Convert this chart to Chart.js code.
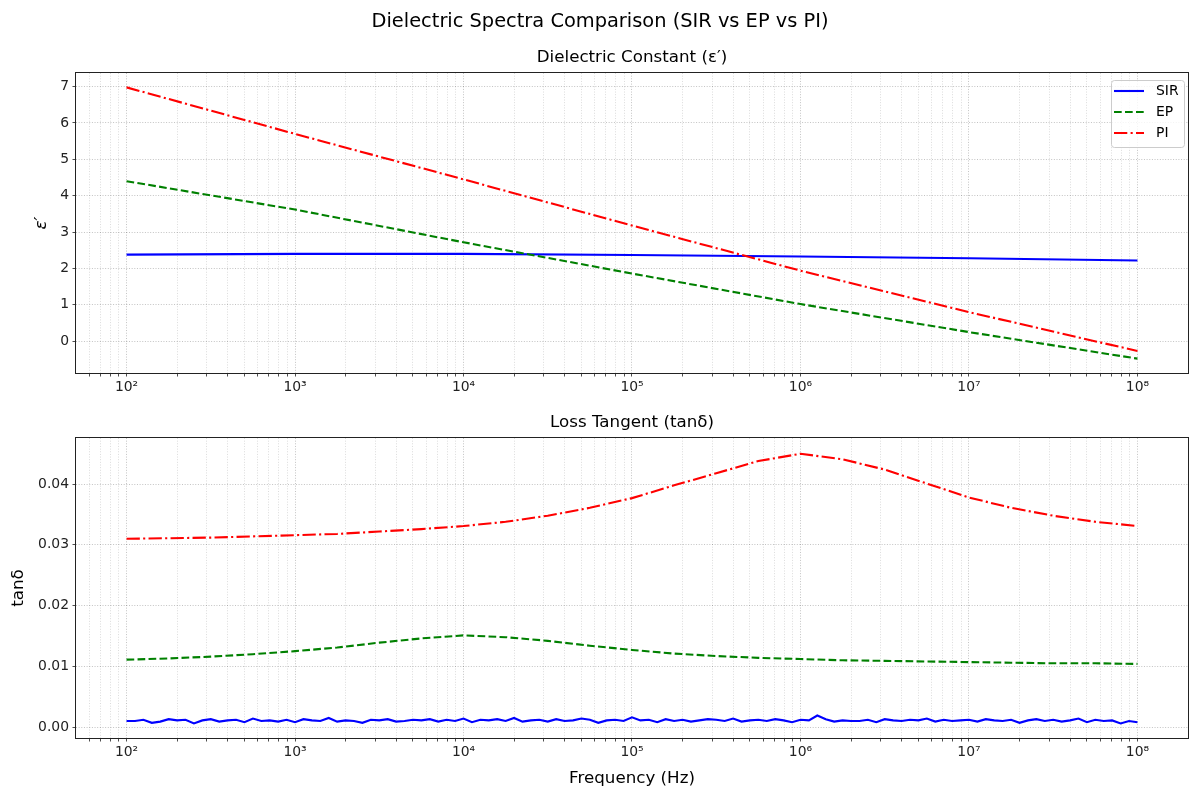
<!DOCTYPE html>
<html>
<head>
<meta charset="utf-8">
<script src="https://cdn.jsdelivr.net/npm/chart.js@4.4.1/dist/chart.umd.min.js"></script>
<style>
  body { margin: 0; background: #fff; }
  #wrap { position: relative; width: 1189px; height: 792px; }
  canvas { position: absolute; left: 0; }
</style>
</head>
<body>
<div id="wrap">
  <canvas id="epsChart" width="1189" height="400" style="top:0"></canvas>
  <canvas id="tanChart" width="1189" height="392" style="top:400px"></canvas>
</div>
<script>
// Dielectric constant, read at each decade 10^2 .. 10^8
const decadeFreq = [1e2, 1e3, 1e4, 1e5, 1e6, 1e7, 1e8];
const epsSIR = [2.38, 2.40, 2.40, 2.37, 2.33, 2.28, 2.22];
const epsEP = [4.40, 3.62, 2.72, 1.86, 1.02, 0.25, -0.48];
const epsPI = [6.98, 5.70, 4.45, 3.18, 1.94, 0.80, -0.27];

// Loss tangent, read every quarter decade 10^2 .. 10^8
const quarterFreq = Array.from({ length: 25 }, (_, i) => Math.pow(10, 2 + i * 0.25));
const tanEP = [
  0.0111, 0.0113, 0.0116, 0.0120, 0.0125, 0.0131, 0.0139, 0.0146, 0.0151,
  0.0148, 0.0142, 0.0134, 0.0127, 0.0121, 0.0117, 0.0114, 0.0112,
  0.0110, 0.0109, 0.0108, 0.0107, 0.0106, 0.0105, 0.0105, 0.0104
];
const tanPI = [
  0.0310, 0.0311, 0.0312, 0.0314, 0.0316, 0.0318, 0.0322, 0.0326, 0.0331,
  0.0338, 0.0348, 0.0361, 0.0377, 0.0398, 0.0418, 0.0438, 0.0450,
  0.0441, 0.0424, 0.0401, 0.0378, 0.0361, 0.0348, 0.0338, 0.0331
];

// SIR loss tangent is noisy, read every 0.05 decade
const fineFreq = Array.from({ length: 121 }, (_, i) => Math.pow(10, 2 + i * 0.05));
const tanSIR = [
  0.0010, 0.0010, 0.0012, 0.0007, 0.0009, 0.0013, 0.0011, 0.0012, 0.0006, 0.0011,
  0.0013, 0.0009, 0.0011, 0.0012, 0.0008, 0.0014, 0.0010, 0.0011, 0.0009, 0.0012,
  0.0008, 0.0013, 0.0011, 0.0010, 0.0015, 0.0009, 0.0011, 0.0010, 0.0007, 0.0012,
  0.0011, 0.0013, 0.0009, 0.0010, 0.0012, 0.0011, 0.0013, 0.0009, 0.0012, 0.0010,
  0.0014, 0.0008, 0.0012, 0.0011, 0.0013, 0.0010, 0.0015, 0.0009, 0.0011, 0.0012,
  0.0009, 0.0013, 0.0010, 0.0011, 0.0014, 0.0012, 0.0007, 0.0011, 0.0012, 0.0010,
  0.0016, 0.0011, 0.0012, 0.0008, 0.0013, 0.0010, 0.0012, 0.0009, 0.0011, 0.0013,
  0.0012, 0.0010, 0.0014, 0.0009, 0.0011, 0.0012, 0.0010, 0.0013, 0.0011, 0.0008,
  0.0012, 0.0011, 0.0019, 0.0013, 0.0009, 0.0011, 0.0010, 0.0010, 0.0012, 0.0008,
  0.0013, 0.0011, 0.0010, 0.0012, 0.0011, 0.0014, 0.0009, 0.0012, 0.0010, 0.0011,
  0.0012, 0.0009, 0.0013, 0.0011, 0.0010, 0.0012, 0.0007, 0.0011, 0.0013, 0.0010,
  0.0012, 0.0009, 0.0011, 0.0014, 0.0008, 0.0012, 0.0010, 0.0011, 0.0006, 0.0010, 0.0008
];

// tick labels
const epsTicks = [0, 1, 2, 3, 4, 5, 6, 7];
const tanTicks = [0, 0.01, 0.02, 0.03, 0.04];
const decadeLabels = { 2: "10²", 3: "10³", 4: "10⁴", 5: "10⁵", 6: "10⁶", 7: "10⁷", 8: "10⁸" };

const xMin = Math.pow(10, 1.7);
const xMax = Math.pow(10, 8.3);
const xTickValues = [];
for (let e = 1; e <= 8; e++) {
  for (let k = 1; k <= 9; k++) {
    const v = k * Math.pow(10, e);
    if (v >= xMin && v <= xMax) xTickValues.push(v);
  }
}

function isDecade(v) {
  const l = Math.log10(v);
  return Math.abs(l - Math.round(l)) < 1e-9;
}

Chart.defaults.font.family = "'DejaVu Sans', sans-serif";
Chart.defaults.color = "#222";

// matplotlib lw 1.5 at 100 dpi, and its dash patterns scaled to it
const styles = {
  SIR: { color: "#0000ff", dash: [], order: 2 },
  EP: { color: "#008000", dash: [7.7, 3.3], order: 1 },
  PI: { color: "#ff0000", dash: [13.3, 3.3, 2.1, 3.3], order: 0 }
};

function makeDataset(name, xs, ys) {
  return {
    label: name,
    data: xs.map((x, i) => ({ x: x, y: ys[i] })),
    borderColor: styles[name].color,
    backgroundColor: styles[name].color,
    borderDash: styles[name].dash,
    order: styles[name].order,
    borderWidth: 2.1,
    pointRadius: 0,
    tension: 0,
    fill: false
  };
}

function xScale(withTitle) {
  return {
    type: "logarithmic",
    min: xMin,
    max: xMax,
    afterBuildTicks: (s) => { s.ticks = xTickValues.map(v => ({ value: v })); },
    afterFit: (s) => { s.height = withTitle ? 54 : 27; },
    ticks: {
      autoSkip: false,
      maxRotation: 0,
      padding: 3,
      font: { size: 13.9 },
      callback: (v) => isDecade(v) ? decadeLabels[Math.round(Math.log10(v))] : ""
    },
    grid: {
      color: (c) => (c.tick && isDecade(c.tick.value)) ? "rgba(0,0,0,0.3)" : "rgba(0,0,0,0.18)",
      lineWidth: 0.8,
      tickLength: 3.5,
      tickColor: "#222"
    },
    border: { display: false, dash: [1, 1.65] },
    title: {
      display: withTitle,
      text: "Frequency (Hz)",
      color: "#000",
      font: { size: 16.7 },
      padding: { top: 0, bottom: 3 }
    }
  };
}

function yScale(min, max, tickList, fmt, label, titlePad, titleStyle) {
  return {
    type: "linear",
    min: min,
    max: max,
    afterBuildTicks: (s) => { s.ticks = tickList.map(v => ({ value: v })); },
    afterFit: (s) => { s.width = 76; },
    ticks: { padding: 3.5, font: { size: 13.9 }, callback: fmt },
    grid: { color: "rgba(0,0,0,0.3)", lineWidth: 0.8, tickLength: 3.5, tickColor: "#222" },
    border: { display: false, dash: [1, 1.65] },
    title: {
      display: true, text: label, color: "#000",
      font: { size: 16.7, style: titleStyle },
      padding: { top: titlePad, bottom: 0 }
    }
  };
}

// frame, titles and legend drawn like matplotlib
const decor = {
  id: "decor",
  afterDraw(chart, args, opts) {
    const ctx = chart.ctx;
    const a = chart.chartArea;
    ctx.save();
    ctx.strokeStyle = "#222";
    ctx.lineWidth = 1;
    ctx.setLineDash([]);
    ctx.strokeRect(Math.round(a.left) - 0.5, Math.round(a.top) - 0.5,
      Math.round(a.right - a.left) + 1, Math.round(a.bottom - a.top) + 1);

    ctx.fillStyle = "#000";
    ctx.textAlign = "center";
    ctx.textBaseline = "middle";
    if (opts.suptitle) {
      ctx.font = "19.4px 'DejaVu Sans'";
      ctx.fillText(opts.suptitle, 600, 22);
    }
    if (opts.title) {
      ctx.font = "16.7px 'DejaVu Sans'";
      ctx.fillText(opts.title, (a.left + a.right) / 2, a.top - 15);
    }

    if (opts.legend) {
      const bx = a.right - 77, by = a.top + 7, bw = 73, bh = 67;
      ctx.beginPath();
      ctx.roundRect(bx + 0.5, by + 0.5, bw, bh, 3);
      ctx.fillStyle = "rgba(255,255,255,0.8)";
      ctx.fill();
      ctx.strokeStyle = "#cccccc";
      ctx.lineWidth = 1;
      ctx.stroke();
      ctx.font = "13.9px 'DejaVu Sans'";
      ctx.textAlign = "left";
      chart.data.datasets.forEach((ds, i) => {
        const y = by + 11 + i * 21;
        ctx.beginPath();
        ctx.setLineDash(ds.borderDash);
        ctx.strokeStyle = ds.borderColor;
        ctx.lineWidth = ds.borderWidth;
        ctx.moveTo(bx + 3, y);
        ctx.lineTo(bx + 33, y);
        ctx.stroke();
        ctx.setLineDash([]);
        ctx.fillStyle = "#000";
        ctx.fillText(ds.label, bx + 45, y);
      });
    }
    ctx.restore();
  }
};

new Chart(document.getElementById("epsChart"), {
  type: "line",
  data: {
    datasets: [
      makeDataset("SIR", decadeFreq, epsSIR),
      makeDataset("EP", decadeFreq, epsEP),
      makeDataset("PI", decadeFreq, epsPI)
    ]
  },
  options: {
    responsive: false,
    animation: false,
    layout: { padding: { top: 73, left: 0, right: 1, bottom: 0 } },
    scales: {
      x: xScale(false),
      y: yScale(-0.875, 7.375, epsTicks, (v) => String(v), "ε′", 32, "italic")
    },
    plugins: {
      legend: { display: false },
      tooltip: { enabled: false },
      decor: { suptitle: "Dielectric Spectra Comparison (SIR vs EP vs PI)", title: "Dielectric Constant (ε′)", legend: true }
    }
  },
  plugins: [decor]
});

new Chart(document.getElementById("tanChart"), {
  type: "line",
  data: {
    datasets: [
      makeDataset("SIR", fineFreq, tanSIR),
      makeDataset("EP", quarterFreq, tanEP),
      makeDataset("PI", quarterFreq, tanPI)
    ]
  },
  options: {
    responsive: false,
    animation: false,
    layout: { padding: { top: 38, left: 0, right: 1, bottom: 0 } },
    scales: {
      x: xScale(true),
      y: yScale(-0.0018, 0.0476, tanTicks, (v) => v.toFixed(2), "tanδ", 9, "normal")
    },
    plugins: {
      legend: { display: false },
      tooltip: { enabled: false },
      decor: { title: "Loss Tangent (tanδ)", legend: false }
    }
  },
  plugins: [decor]
});
</script>
</body>
</html>
